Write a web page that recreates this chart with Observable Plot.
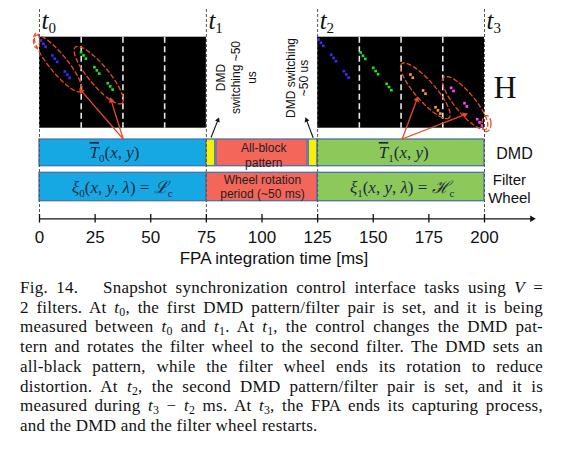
<!DOCTYPE html>
<html><head><meta charset="utf-8">
<script src="https://cdn.jsdelivr.net/npm/d3@7"></script>
<script src="https://cdn.jsdelivr.net/npm/@observablehq/plot@0.6"></script>
<style>
html,body{margin:0;padding:0;background:#fff;}
#chart{position:absolute;left:0;top:0;}
#cap{position:absolute;left:20px;top:278px;width:523px;font-family:"Liberation Serif","Times New Roman",serif;font-size:17px;letter-spacing:0.25px;line-height:19.7px;color:#111;}
#cap div{text-align:justify;text-align-last:justify;}
#cap div.last{text-align-last:left;}
#cap sub{font-size:0.7em;vertical-align:-0.25em;line-height:0;}
</style>
</head><body>
<div id="chart"></div>
<div id="cap">
<div>Fig. 14.&nbsp;&nbsp; Snapshot synchronization control interface tasks using <i>V</i> =</div>
<div>2 filters. At <i>t</i><sub>0</sub>, the first DMD pattern/filter pair is set, and it is being</div>
<div>measured between <i>t</i><sub>0</sub> and <i>t</i><sub>1</sub>. At <i>t</i><sub>1</sub>, the control changes the DMD pat-</div>
<div>tern and rotates the filter wheel to the second filter. The DMD sets an</div>
<div>all-black pattern, while the filter wheel ends its rotation to reduce</div>
<div>distortion. At <i>t</i><sub>2</sub>, the second DMD pattern/filter pair is set, and it is</div>
<div>measured during <i>t</i><sub>3</sub> &minus; <i>t</i><sub>2</sub> ms. At <i>t</i><sub>3</sub>, the FPA ends its capturing process,</div>
<div class="last">and the DMD and the filter wheel restarts.</div>
</div>
<script>
// ---------------- data ----------------
const tickValues = [0, 25, 50, 75, 100, 125, 150, 175, 200];
const eventTimes = [0, 75, 125, 200];
const eventLabels = ["t0", "t1", "t2", "t3"];
const panelStart = [0, 125];
const panelEnd = [75, 200];
const panelDividers = [18.75, 37.5, 56.25, 143.75, 162.5, 181.25];

const dmdStart = [0, 75, 79.5, 121, 125];
const dmdEnd = [75, 79, 120.5, 125, 200];
const dmdKind = ["measure0", "switch", "black", "switch", "measure1"];
const wheelStart = [0, 75, 125];
const wheelEnd = [75, 125, 200];
const wheelKind = ["measure0", "black", "measure1"];

// dot groups (time in ms, row position), colour per group, dots per group
const dotGroupTime = [0.6, 5.8, 11.4, 18.7, 24.7, 30.7,
  125.4, 131.1, 136.8, 144.3, 150.0, 156.0, 166.7, 172.4, 178.0, 185.0, 191.0, 196.7];
const dotGroupRow = [40, 55, 71, 51.7, 66.7, 82.7,
  39, 54.3, 70.7, 52, 67.3, 83.3, 74, 90, 106.7, 87.3, 102.7, 118.7];
const dotGroupBand = ["b","b","b","g","g","g","b","b","b","g","g","g","o","o","o","m","m","m"];
const dotGroupCount = [3,3,3,3,3,3,3,3,3,3,3,3,2,2,3,2,2,3];

// dashed ellipses: centre time, centre row, half-length, half-width, tilt
const ellTime = [8.4, -1.35, 26.6, 173.4, 191.3, 200.9];
const ellRow = [63, 40, 74.7, 90.3, 102.5, 123];
const ellRx = [36, 3, 36.5, 36, 33.5, 4.5];
const ellRy = [9, 7.5, 10, 10, 10, 8];
const ellTilt = [50.8, 0, 50.2, 48.8, 50.4, 0];

// arrows
const redFromT = [37.6, 37.6, 163.0, 163.0];
const redFromR = [138.5, 138.5, 138.5, 138.5];
const redToT = [18.1, 31.9, 170.0, 192.2];
const redToR = [88.5, 97.7, 96.7, 113.3];
const blackFromT = [77.1, 123.0];
const blackFromR = [137, 137.3];
const blackToT = [80.6, 119.6];
const blackToR = [117.3, 117.3];

// ---------------- layout / style ----------------
const W = 562, H = 268;
const X_DOMAIN = [0, 200], X_RANGE = [39, 484];
const FRAME_BOTTOM = 214;
const pxPerMs = (X_RANGE[1] - X_RANGE[0]) / (X_DOMAIN[1] - X_DOMAIN[0]);
const LY = {panelTop: 36.7, panelBottom: 127.7, dmdTop: 139, dmdBottom: 165.7,
  wheelTop: 172.3, wheelBottom: 200.7, axisY: 218.3, eventTop: 9, eventBottom: 223};
const axisEndT = 222.5;
const colors = {measure0: "#16a8e2", measure1: "#8dc85a", black: "#f4665a", switch: "#f5f00a"};
const dotColors = {b: "#3b2bff", g: "#22e022", o: "#ff9a1a", m: "#ff44ff"};
const barStroke = "#4a72a8";
const red = "#ec4a25";
const SANS = "Liberation Sans, Arial, sans-serif";
const SERIF = "Liberation Serif, Times New Roman, serif";

// ---------------- derived tables ----------------
const panels = panelStart.map((s, i) => ({s, e: panelEnd[i]}));
const dmd = dmdStart.map((s, i) => ({s, e: dmdEnd[i], k: dmdKind[i]}));
const wheel = wheelStart.map((s, i) => ({s, e: wheelEnd[i], k: wheelKind[i]}));
const dots = [];
dotGroupTime.forEach((t, i) => {
  for (let k = 0; k < dotGroupCount[i]; k++)
    dots.push({x: t + k * 2.4 / pxPerMs, y: dotGroupRow[i] + k * 3.2, c: dotColors[dotGroupBand[i]]});
});
const ellPts = [];
ellTime.forEach((cx, i) => {
  const a = ellTilt[i] * Math.PI / 180;
  for (let j = 0; j < 72; j++) {
    const t = j / 72 * 2 * Math.PI;
    const dx = ellRx[i] * Math.cos(t) * Math.cos(a) - ellRy[i] * Math.sin(t) * Math.sin(a);
    const dy = ellRx[i] * Math.cos(t) * Math.sin(a) + ellRy[i] * Math.sin(t) * Math.cos(a);
    ellPts.push({z: i, x: cx + dx / pxPerMs, y: ellRow[i] + dy});
  }
});
function arrowTable(x1s, y1s, x2s, y2s, back) {
  return x1s.map((x1, i) => {
    const x2 = x2s[i], y1 = y1s[i], y2 = y2s[i];
    const dxp = (x2 - x1) * pxPerMs, dyp = y2 - y1, len = Math.hypot(dxp, dyp);
    const ux = dxp / len, uy = dyp / len;
    return {x1, y1, x2: x2 - ux * back / pxPerMs, y2: y2 - uy * back,
      hx: x2 - ux * back / pxPerMs, hy: y2 - uy * back,
      rot: Math.atan2(ux, -uy) * 180 / Math.PI};
  });
}
const redArrows = arrowTable(redFromT, redFromR, redToT, redToR, 2.5);
const blackArrows = arrowTable(blackFromT, blackFromR, blackToT, blackToR, 2.5);
const axisHead = arrowTable([0], [LY.axisY], [axisEndT], [LY.axisY], 2.5);

const C = v => () => v;

const plot = Plot.plot({
  width: W, height: H,
  marginTop: 0, marginBottom: H - FRAME_BOTTOM, marginLeft: X_RANGE[0], marginRight: W - X_RANGE[1],
  x: {domain: X_DOMAIN, range: X_RANGE},
  y: {domain: [0, FRAME_BOTTOM], range: [0, FRAME_BOTTOM], axis: null},
  style: {fontFamily: SANS, background: "white", overflow: "visible"},
  marks: [
    // black image panels
    Plot.rect(panels, {x1: "s", x2: "e", y1: C(LY.panelTop), y2: C(LY.panelBottom), fill: "black"}),
    Plot.ruleX(panelDividers, {x: d => d, y1: C(LY.panelTop), y2: C(LY.panelBottom), stroke: "#e8e8e8", strokeWidth: 1.6, strokeDasharray: "6,3.5"}),
    Plot.dot(dots, {x: "x", y: "y", fill: "c", symbol: "square", r: 1.5, stroke: null}),
    Plot.line(ellPts, {x: "x", y: "y", z: "z", curve: "linear-closed", stroke: red, strokeWidth: 1.3, strokeDasharray: "4,3"}),
    // bars
    Plot.rect(dmd, {x1: "s", x2: "e", y1: C(LY.dmdTop), y2: C(LY.dmdBottom), fill: d => colors[d.k], stroke: barStroke, strokeWidth: 1.3}),
    Plot.rect(wheel, {x1: "s", x2: "e", y1: C(LY.wheelTop), y2: C(LY.wheelBottom), fill: d => colors[d.k], stroke: barStroke, strokeWidth: 1.3}),
    // event lines
    Plot.ruleX(eventTimes, {x: d => d, y1: C(LY.eventTop), y2: C(LY.eventBottom), stroke: "#555", strokeWidth: 1, strokeDasharray: "3,2"}),
    Plot.text(eventTimes, {x: d => d, y: C(20), text: (d, i) => eventLabels[i], textAnchor: "start", dx: 2, fontSize: 25, fontFamily: SERIF, fill: "#111"}),
    // axis
    Plot.ruleY([LY.axisY], {y: d => d, x1: C(0), x2: C(axisEndT - 1), stroke: "#111", strokeWidth: 1.3}),
    Plot.dot(axisHead, {x: "hx", y: "hy", rotate: "rot", symbol: "triangle", r: 2.4, fill: "#111", stroke: null}),
    Plot.axisX(tickValues, {tickSize: 8.5, tickPadding: 8, fontSize: 17, label: null, tickFormat: d => String(d), stroke: "#111", strokeWidth: 1.3, fill: "#111"}),
    Plot.text(["FPA integration time [ms]"], {x: C(105.4), y: C(258), text: d => d, fontSize: 17, fill: "#111"}),
    // arrows
    Plot.link(redArrows, {x1: "x1", y1: "y1", x2: "x2", y2: "y2", stroke: red, strokeWidth: 1.3}),
    Plot.dot(redArrows, {x: "hx", y: "hy", rotate: "rot", symbol: "triangle", r: 2.2, fill: red, stroke: null}),
    Plot.link(blackArrows, {x1: "x1", y1: "y1", x2: "x2", y2: "y2", stroke: "#111", strokeWidth: 1.1}),
    Plot.dot(blackArrows, {x: "hx", y: "hy", rotate: "rot", symbol: "triangle", r: 1.9, fill: "#111", stroke: null}),
    // annotations
    Plot.text(["DMD\nswitching ~50\nus"], {x: C(88.1), y: C(77), text: d => d, rotate: -90, fontSize: 12, lineHeight: 1.29, fill: "#111"}),
    Plot.text(["DMD switching\n~50 us"], {x: C(115.8), y: C(77.5), text: d => d, rotate: -90, fontSize: 12, lineHeight: 1.11, fill: "#111"}),
    Plot.text(["All-block\npattern"], {x: C(100.8), y: C(154), text: d => d, fontSize: 12, lineHeight: 1.3, fill: "#222"}),
    Plot.text(["Wheel rotation\nperiod (~50 ms)"], {x: C(100.2), y: C(186.3), text: d => d, fontSize: 12, lineHeight: 1.17, fill: "#222"}),
    Plot.text(["T0(x, y)"], {x: C(33.7), y: C(152), text: d => d, fontSize: 17, fontFamily: SERIF, fill: "#1a2a44"}),
    Plot.text(["xi0(x, y, lambda) = Lc"], {x: C(37.2), y: C(187), text: d => d, fontSize: 17, fontFamily: SERIF, fill: "#1a2a44"}),
    Plot.text(["T1(x, y)"], {x: C(163.7), y: C(152), text: d => d, fontSize: 17, fontFamily: SERIF, fill: "#1a2a44"}),
    Plot.text(["xi1(x, y, lambda) = Hc"], {x: C(163.0), y: C(187), text: d => d, fontSize: 17, fontFamily: SERIF, fill: "#1a2a44"}),
    Plot.text(["H"], {x: C(209.2), y: C(87), text: d => d, fontSize: 32, fontFamily: SERIF, fill: "#111"}),
    Plot.text(["DMD"], {x: C(213.5), y: C(153), text: d => d, fontSize: 16, fill: "#111"}),
    Plot.text(["Filter\nWheel"], {x: C(211.2), y: C(188), text: d => d, fontSize: 15, lineHeight: 1.2, fill: "#111"})
  ]
});
document.getElementById("chart").appendChild(plot);

// ---------------- rich (math) text ----------------
const I = (t) => ({t, i: 1}), N = (t) => ({t}), S = (t, fs) => ({t, sub: 4, fs: fs || 11});
const richMap = {
  "t0": [I("t"), S("0", 15)], "t1": [I("t"), S("1", 15)], "t2": [I("t"), S("2", 15)], "t3": [I("t"), S("3", 15)],
  "T0(x, y)": [{t: "T", i: 1, o: 1}, S("0"), N("("), I("x"), N(", "), I("y"), N(")")],
  "T1(x, y)": [{t: "T", i: 1, o: 1}, S("1"), N("("), I("x"), N(", "), I("y"), N(")")],
  "xi0(x, y, lambda) = Lc": [I("ξ"), S("0"), N("("), I("x"), N(", "), I("y"), N(", "), I("λ"), N(") = "), I("ℒ"), S("c")],
  "xi1(x, y, lambda) = Hc": [I("ξ"), S("1"), N("("), I("x"), N(", "), I("y"), N(", "), I("λ"), N(") = "), I("ℋ"), S("c")]
};
d3.select(plot).selectAll("text").each(function () {
  const parts = richMap[this.textContent];
  if (!parts) return;
  const el = d3.select(this);
  el.text(null);
  let shift = 0;
  for (const p of parts) {
    const ts = el.append("tspan").text(p.t).attr("font-style", p.i ? "italic" : "normal");
    if (p.fs) ts.attr("font-size", p.fs);
    if (p.o) ts.attr("text-decoration", "overline");
    const target = p.sub || 0;
    if (target !== shift) { ts.attr("dy", target - shift); shift = target; }
  }
});
</script>
</body></html>
